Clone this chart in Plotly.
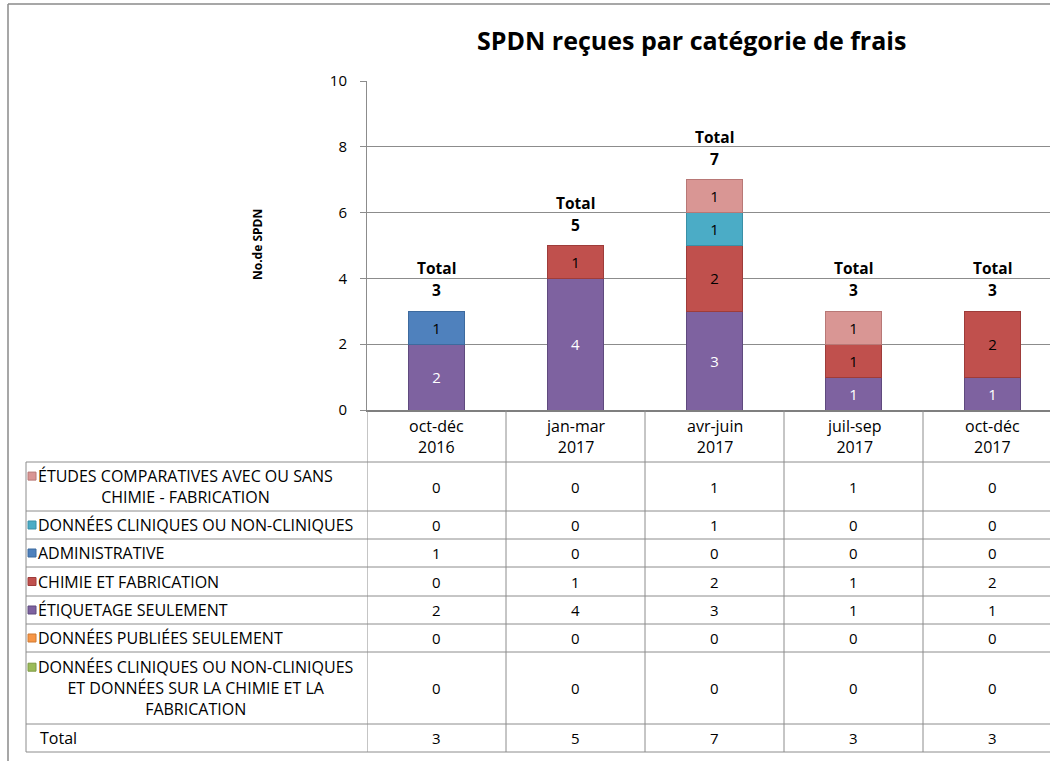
import plotly.graph_objects as go

# ---------------- data ----------------
categories = ["oct-déc 2016", "jan-mar 2017", "avr-juin 2017", "juil-sep 2017", "oct-déc 2017"]

series_names = [
    "ÉTUDES COMPARATIVES AVEC OU SANS<br>CHIMIE - FABRICATION",
    "DONNÉES CLINIQUES OU NON-CLINIQUES",
    "ADMINISTRATIVE",
    "CHIMIE ET FABRICATION",
    "ÉTIQUETAGE SEULEMENT",
    "DONNÉES PUBLIÉES SEULEMENT",
    "DONNÉES CLINIQUES OU NON-CLINIQUES<br>ET DONNÉES SUR LA CHIMIE ET LA<br>FABRICATION",
]
etudes_comparatives = [0, 0, 1, 1, 0]
donnees_cliniques = [0, 0, 1, 0, 0]
administrative = [1, 0, 0, 0, 0]
chimie_fabrication = [0, 1, 2, 1, 2]
etiquetage = [2, 4, 3, 1, 1]
donnees_publiees = [0, 0, 0, 0, 0]
cliniques_et_chimie = [0, 0, 0, 0, 0]

y_ticks = [0, 2, 4, 6, 8, 10]

title_text = "SPDN reçues par catégorie de frais"
y_title = "No.de SPDN"

# ---------------- styles ----------------
series_values = [etudes_comparatives, donnees_cliniques, administrative,
                 chimie_fabrication, etiquetage, donnees_publiees, cliniques_et_chimie]
series_colors = ["#D99694", "#4BACC6", "#4F81BD", "#C0504D", "#7E62A0", "#F79646", "#9BBB59"]
series_line = ["#B87876", "#3A8FA6", "#3D6A9E", "#9E3C3A", "#5F4A7E", "#D07A33", "#7E9A45"]
label_colors = ["black", "black", "black", "black", "white", "black", "black"]

FONT = "'Open Sans', Lato, sans-serif"
GRID = "#8C8C8C"
W, H = 1050, 761


def px_x(x):
    return x / W


def px_y(y):
    return 1 - y / H


PLOT_LEFT, PLOT_TOP, PLOT_BOTTOM = 367, 81, 410
TABLE_LEFT = 26
ROW_EDGES = [410, 462, 511, 539, 567, 596, 624, 652, 724, 752]
COL_W = 139.0
x_max = -0.5 + (W - PLOT_LEFT) / COL_W
TXT = 16      # table labels / header
NUM = 15      # numbers
LINE_H = 1.3 * TXT

fig = go.Figure()

# stacked bars: bottom of stack is the last series of the table
for name, vals, col, lcol, tcol in reversed(list(zip(series_names, series_values, series_colors,
                                                      series_line, label_colors))):
    yvals = [v if v else None for v in vals]
    texts = [str(v) if v else "" for v in vals]
    fig.add_trace(go.Bar(
        x=categories, y=yvals, name=name.replace("<br>", " "),
        marker=dict(color=col, line=dict(color=lcol, width=1)),
        text=texts, textposition="inside", insidetextanchor="middle",
        textfont=dict(family=FONT, size=NUM, color=tcol),
        width=0.4, showlegend=False, cliponaxis=False,
    ))

totals = [sum(s[i] for s in series_values) for i in range(len(categories))]

annotations = []
shapes = []

# totals above bars
for i, t in enumerate(totals):
    annotations.append(dict(x=categories[i], y=t, xref="x", yref="y", text="<b>%d</b>" % t,
                            showarrow=False, xanchor="center", yanchor="middle", yshift=21,
                            font=dict(family=FONT, size=15.5, color="black")))
    annotations.append(dict(x=categories[i], y=t, xref="x", yref="y", text="<b>Total</b>",
                            showarrow=False, xanchor="center", yanchor="middle", yshift=43,
                            font=dict(family=FONT, size=15.5, color="black")))

# title & axis title
annotations.append(dict(x=px_x(691), y=px_y(40), xref="paper", yref="paper",
                        xanchor="center", yanchor="middle",
                        text="<b>%s</b>" % title_text, showarrow=False,
                        font=dict(family=FONT, size=25, color="black")))
annotations.append(dict(x=px_x(258), y=px_y(245), xref="paper", yref="paper",
                        xanchor="center", yanchor="middle",
                        text="<b>%s</b>" % y_title, showarrow=False, textangle=-90,
                        font=dict(family=FONT, size=12, color="black")))

# ---------- data table ----------
line_style = dict(color=GRID, width=1)
hc = (ROW_EDGES[0] + ROW_EDGES[1]) / 2
for i, c in enumerate(categories):
    annotations.append(dict(x=i, y=px_y(hc), xref="x", yref="paper",
                            xanchor="center", yanchor="middle",
                            text=c.replace(" ", "<br>"), showarrow=False,
                            font=dict(family=FONT, size=TXT, color="black")))

row_labels = series_names + ["Total"]
row_values = series_values + [totals]
for r, (lab, vals) in enumerate(zip(row_labels, row_values)):
    y0, y1 = ROW_EDGES[r + 1], ROW_EDGES[r + 2]
    yc = (y0 + y1) / 2
    nlines = lab.count("<br>") + 1
    first_line_c = yc - (nlines - 1) * LINE_H / 2
    if r < len(series_names):
        shapes.append(dict(type="rect", xref="paper", yref="paper",
                           x0=px_x(28), x1=px_x(36),
                           y0=px_y(first_line_c - 4), y1=px_y(first_line_c + 4),
                           fillcolor=series_colors[r], line=dict(color=series_line[r], width=1)))
        annotations.append(dict(x=px_x(36), y=px_y(yc), xref="paper", yref="paper",
                                text=lab, showarrow=False, xanchor="left", yanchor="middle",
                                align="center",
                                font=dict(family=FONT, size=TXT, color="black")))
    else:
        annotations.append(dict(x=px_x(38), y=px_y(yc), xref="paper", yref="paper",
                                text=lab, showarrow=False, xanchor="left", yanchor="middle",
                                font=dict(family=FONT, size=TXT, color="black")))
    for i, v in enumerate(vals):
        annotations.append(dict(x=i, y=px_y(yc), xref="x", yref="paper", text=str(v),
                                xanchor="center", yanchor="middle",
                                showarrow=False, font=dict(family=FONT, size=NUM, color="black")))

# horizontal table lines
for ye in ROW_EDGES[1:]:
    shapes.append(dict(type="line", xref="paper", yref="paper", x0=px_x(TABLE_LEFT), x1=1,
                       y0=px_y(ye), y1=px_y(ye), line=line_style))
shapes.append(dict(type="line", xref="paper", yref="paper", x0=px_x(TABLE_LEFT), x1=px_x(TABLE_LEFT),
                   y0=px_y(ROW_EDGES[1]), y1=px_y(ROW_EDGES[-1]), line=line_style))
for i in range(len(categories)):
    shapes.append(dict(type="line", xref="x", yref="paper", x0=i - 0.5, x1=i - 0.5,
                       y0=px_y(ROW_EDGES[0]), y1=px_y(ROW_EDGES[-1]), line=line_style))

# outer chart border (left & top)
border = dict(color="#8A8A8A", width=1.5)
shapes.append(dict(type="line", xref="paper", yref="paper", x0=px_x(8), x1=px_x(8),
                   y0=px_y(4), y1=0, line=border))
shapes.append(dict(type="line", xref="paper", yref="paper", x0=px_x(8), x1=1,
                   y0=px_y(4), y1=px_y(4), line=border))

fig.update_layout(
    width=W, height=H, margin=dict(l=0, r=0, t=0, b=0, autoexpand=False),
    paper_bgcolor="white", plot_bgcolor="white",
    barmode="stack",
    font=dict(family=FONT, size=TXT, color="black"),
    annotations=annotations, shapes=shapes,
    xaxis=dict(domain=[px_x(PLOT_LEFT), 1], type="category", range=[-0.5, x_max],
               showticklabels=False, ticks="", showgrid=False,
               showline=True, linecolor="#7F7F7F", linewidth=2, zeroline=False),
    yaxis=dict(domain=[px_y(PLOT_BOTTOM), px_y(PLOT_TOP)], range=[0, 10], tickvals=y_ticks,
               showgrid=True, gridcolor=GRID, gridwidth=1, zeroline=False,
               showline=True, linecolor=GRID, linewidth=1,
               ticks="outside", ticklen=6, tickcolor=GRID,
               tickfont=dict(family=FONT, size=15, color="black"), ticklabelstandoff=10),
)

fig.write_html("out.html", config={"displayModeBar": False},
               post_script="document.body.style.margin='0';document.body.style.overflow='hidden';")
